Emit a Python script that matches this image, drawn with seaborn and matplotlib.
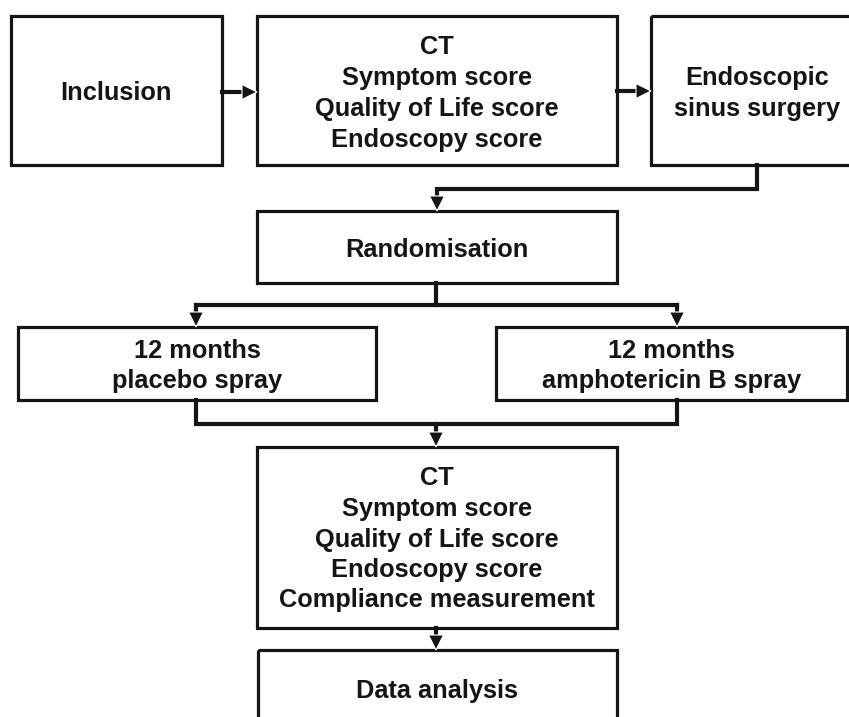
import matplotlib
matplotlib.use("Agg")
import matplotlib.pyplot as plt
from matplotlib.patches import Rectangle, Polygon
import seaborn as sns

sns.set_theme(style="white")
plt.rcParams["font.family"] = ["Liberation Sans", "DejaVu Sans"]

# ---- content (text of the flowchart) ----
inclusion_lines = ["Inclusion"]
baseline_lines = ["CT", "Symptom score", "Quality of Life score", "Endoscopy score"]
surgery_lines = ["Endoscopic", "sinus surgery"]
random_lines = ["Randomisation"]
placebo_lines = ["12 months", "placebo spray"]
ampho_lines = ["12 months", "amphotericin B spray"]
followup_lines = ["CT", "Symptom score", "Quality of Life score",
                  "Endoscopy score", "Compliance measurement"]
analysis_lines = ["Data analysis"]

# ---- layout (pixel coordinates, y downward) ----
W, H = 849, 717
boxes = {
    "inclusion": ((11, 16, 222, 165), inclusion_lines, [100], None),
    "baseline": ((257, 16, 617, 165), baseline_lines, [54, 85, 116, 147], None),
    "surgery": ((651, 16, 880, 165), surgery_lines, [85, 116], 757),
    "random": ((257, 211, 617, 283), random_lines, [257], None),
    "placebo": ((18, 327, 376, 400), placebo_lines, [358, 388], None),
    "ampho": ((496, 327, 847, 400), ampho_lines, [358, 388], None),
    "followup": ((257, 447, 617, 628), followup_lines, [485, 516, 547, 577, 607], None),
    "analysis": ((258, 650, 617, 760), analysis_lines, [698], None),
}
lines = [
    [(757, 165), (757, 189), (437, 189), (437, 198)],
    [(436, 283), (436, 305)],
    [(196, 305), (677, 305)],
    [(196, 305), (196, 314)],
    [(677, 305), (677, 314)],
    [(196, 400), (196, 424), (677, 424), (677, 400)],
    [(436, 424), (436, 433)],
    [(436, 628), (436, 636)],
    [(222, 92), (243, 92)],
    [(617, 91), (637, 91)],
]
heads = [  # tip position, direction
    ((437, 211), "down"), ((196, 327), "down"), ((677, 327), "down"),
    ((436, 447), "down"), ((436, 650), "down"),
    ((257, 92), "right"), ((651, 91), "right"),
]

fig = plt.figure(figsize=(W / 100, H / 100), dpi=100)
ax = fig.add_axes([0, 0, 1, 1])
ax.set_xlim(0, W)
ax.set_ylim(H, 0)
ax.axis("off")

ink = "#151515"
for (x0, y0, x1, y1), texts, ys, cx in boxes.values():
    ax.add_patch(Rectangle((x0, y0), x1 - x0, y1 - y0, fill=False,
                           edgecolor=ink, linewidth=2.3))
    if cx is None:
        cx = (x0 + x1) / 2
    for t, y in zip(texts, ys):
        ax.text(cx, y, t, ha="center", va="baseline", fontsize=18.3,
                fontweight="bold", color=ink, family="Liberation Sans")

for pts in lines:
    xs, ys = zip(*pts)
    ax.plot(xs, ys, color=ink, linewidth=3.0, solid_capstyle="projecting",
            solid_joinstyle="miter")

L, hw = 15, 7.5
for (tx, ty), d in heads:
    if d == "down":
        tri = [(tx, ty), (tx - hw, ty - L), (tx + hw, ty - L)]
    else:
        tri = [(tx, ty), (tx - L, ty - hw), (tx - L, ty + hw)]
    ax.add_patch(Polygon(tri, closed=True, facecolor=ink,
                         edgecolor="white", linewidth=0.8, joinstyle="miter",
                         zorder=3))

fig.savefig("out.png", dpi=100, facecolor="white")
